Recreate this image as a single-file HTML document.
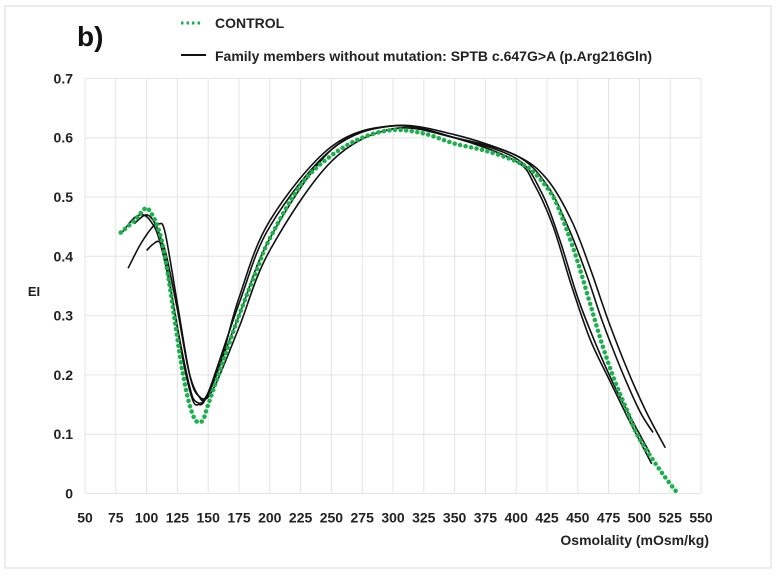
<!DOCTYPE html>
<html><head><meta charset="utf-8"><style>
body{margin:0;background:#fff;width:776px;height:575px;overflow:hidden;font-family:"Liberation Sans",sans-serif}
</style></head><body>
<svg width="776" height="575" id="svg" xmlns="http://www.w3.org/2000/svg">
<rect x="5" y="6" width="766" height="562" fill="#fff" stroke="#d9d9d9"/>
<g id="grid"></g>
<g id="yt" font-size="14" font-weight="bold" fill="#222" text-anchor="end"></g>
<g id="xt" font-size="14" font-weight="bold" fill="#222" text-anchor="middle"></g>
<g id="series"></g>
<text x="77" y="46" font-size="28" font-weight="bold" fill="#111">b)</text>
<g>
<line x1="181" y1="23" x2="201" y2="23" stroke="#1ab04b" stroke-width="3" stroke-dasharray="2.5,3"/>
<text x="215" y="28" font-size="14" font-weight="bold" fill="#222">CONTROL</text>
<line x1="181" y1="55" x2="206" y2="55" stroke="#111" stroke-width="2"/>
<text x="215" y="61" font-size="14" font-weight="bold" fill="#222">Family members without mutation: SPTB  c.647G&gt;A (p.Arg216Gln)</text>
</g>
<text x="34" y="296" font-size="13" font-weight="bold" fill="#222" text-anchor="middle">EI</text>
<text x="709" y="545" font-size="14" font-weight="bold" fill="#222" text-anchor="end">Osmolality (mOsm/kg)</text>
</svg>
<script>
const xTicks=[50,75,100,125,150,175,200,225,250,275,300,325,350,375,400,425,450,475,500,525,550];
const yTicks=[0,0.1,0.2,0.3,0.4,0.5,0.6,0.7];
const controlX=[79,90,99,103,108,113,118,123,128,133,138,142,146,150,160,175,190,200,225,250,275,300,325,350,375,400,415,430,440,450,460,470,480,490,498,510,520,530];
const controlY=[0.44,0.46,0.481,0.475,0.455,0.42,0.36,0.29,0.22,0.165,0.13,0.12,0.125,0.15,0.21,0.30,0.38,0.43,0.52,0.57,0.60,0.613,0.607,0.59,0.578,0.56,0.54,0.50,0.45,0.39,0.32,0.25,0.19,0.14,0.10,0.06,0.03,0.003];
const famAX=[80,90,97,103,110,120,130,137,142,150,175,200,250,300,350,400,415,430,445,460,476,490,500,510];
const famAY=[0.44,0.465,0.47,0.46,0.43,0.34,0.22,0.16,0.15,0.17,0.32,0.45,0.58,0.62,0.60,0.56,0.52,0.45,0.35,0.26,0.19,0.13,0.09,0.05];
const famBX=[85,95,105,110,115,125,135,142,150,175,200,250,300,350,400,425,445,460,475,490,505,521];
const famBY=[0.38,0.42,0.45,0.455,0.44,0.32,0.20,0.165,0.17,0.30,0.43,0.58,0.62,0.605,0.57,0.53,0.46,0.38,0.29,0.21,0.14,0.077];
const famCX=[100,105,110,115,125,135,145,155,175,200,250,300,350,400,425,442,457,470,485,500,511];
const famCY=[0.41,0.42,0.425,0.41,0.31,0.20,0.16,0.18,0.28,0.41,0.56,0.615,0.60,0.57,0.52,0.45,0.37,0.29,0.21,0.14,0.103];
const famDX=[90,100,108,115,125,135,140,148,160,175,200,250,300,350,400,420,435,450,465,480,495,508];
const famDY=[0.455,0.47,0.45,0.40,0.28,0.18,0.155,0.16,0.22,0.33,0.46,0.585,0.62,0.60,0.565,0.51,0.43,0.33,0.25,0.18,0.12,0.07];
const NS="http://www.w3.org/2000/svg";
const X0=85,XS=30.8/25,Y0=493.5,YS=593;
function px(v){return X0+(v-50)*XS}
function py(v){return Y0-v*YS}
function mk(t,a,p){const e=document.createElementNS(NS,t);for(const k in a)e.setAttribute(k,a[k]);p.appendChild(e);return e}
const grid=document.getElementById('grid'),yt=document.getElementById('yt'),xt=document.getElementById('xt'),ser=document.getElementById('series');
yTicks.forEach(v=>{const l=mk('line',{x1:px(50),x2:px(550),y1:py(v),y2:py(v),stroke:'#e4e4e4'},grid);


const t=mk('text',{x:px(50)-12,y:py(v)+5},yt);t.textContent=v===0?'0':v.toFixed(1);

});
xTicks.forEach(v=>{const l=mk('line',{x1:px(v),x2:px(v),y1:py(0.7),y2:py(0),stroke:'#e4e4e4'},grid);


const t=mk('text',{x:px(v),y:py(0)+29},xt);t.textContent=v;

});
function path(xs,ys){
const P=xs.map((x,i)=>[px(x),py(ys[i])]);
let d='M'+P[0][0].toFixed(1)+','+P[0][1].toFixed(1);
for(let i=0;i<P.length-1;i++){
const p0=P[Math.max(0,i-1)],p1=P[i],p2=P[i+1],p3=P[Math.min(P.length-1,i+2)];
const c1=[p1[0]+(p2[0]-p0[0])/6,p1[1]+(p2[1]-p0[1])/6],c2=[p2[0]-(p3[0]-p1[0])/6,p2[1]-(p3[1]-p1[1])/6];
d+='C'+c1.map(v=>v.toFixed(1)).join(',')+' '+c2.map(v=>v.toFixed(1)).join(',')+' '+p2[0].toFixed(1)+','+p2[1].toFixed(1);}
return d}
[[famAX,famAY,'family-line-a'],[famBX,famBY,'family-line-b'],[famCX,famCY,'family-line-c'],[famDX,famDY,'family-line-d']].forEach(s=>{
const p=mk('path',{d:path(s[0],s[1]),fill:'none',stroke:'#111','stroke-width':1.6,'stroke-linejoin':'round'},ser);

});
const c=mk('path',{d:path(controlX,controlY),fill:'none',stroke:'#1ab04b','stroke-width':4.5,'stroke-linecap':'round','stroke-dasharray':'0.1,5.5'},ser);


</script>
</body></html>
